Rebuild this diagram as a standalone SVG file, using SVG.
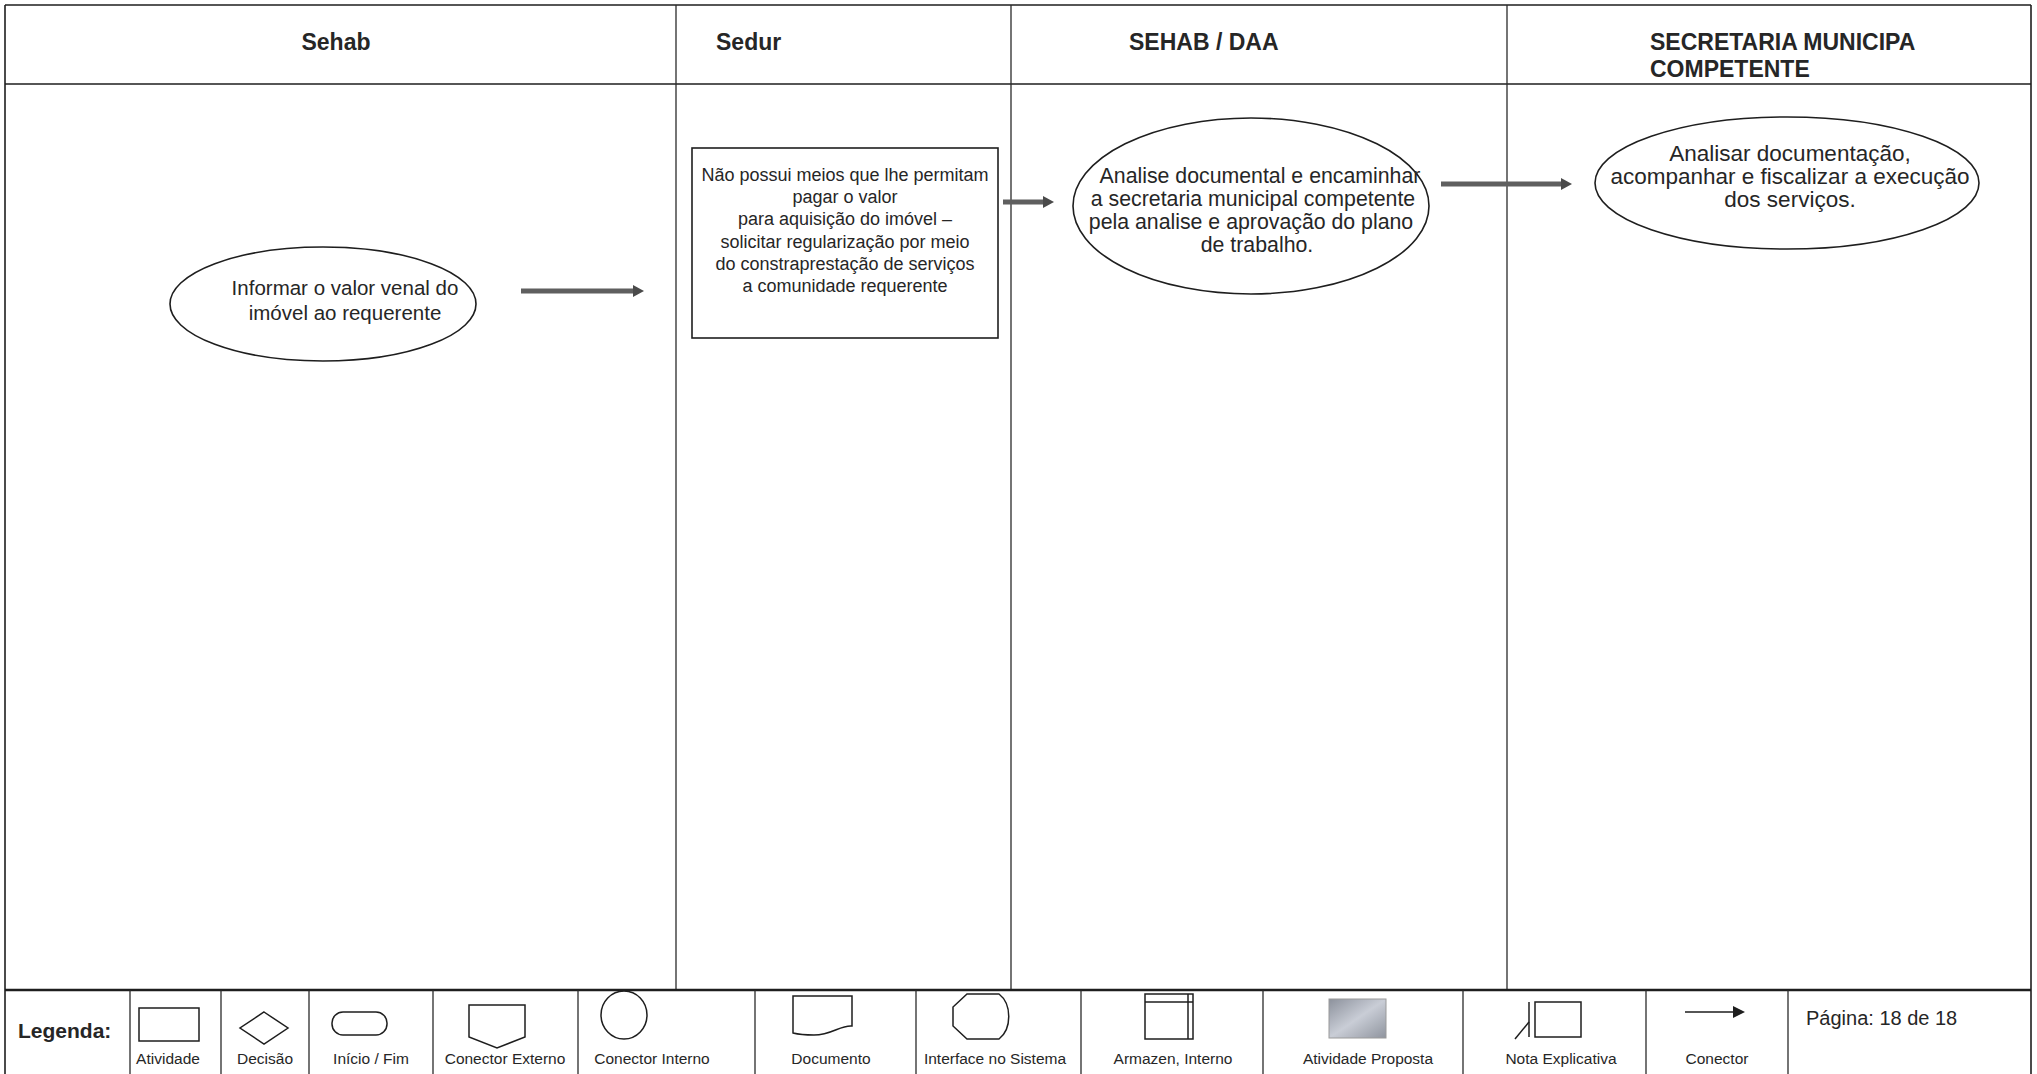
<svg xmlns="http://www.w3.org/2000/svg" width="2037" height="1074" viewBox="0 0 2037 1074">
<defs>
<style>
.frame{fill:none;stroke:#1e1e1e;stroke-width:1.6}
.div{fill:none;stroke:#2a2a2a;stroke-width:1.3}
.shape{fill:#fff;stroke:#1e1e1e;stroke-width:1.6}
.lg{fill:none;stroke:#1e1e1e;stroke-width:1.5}
.hd{font-family:"Liberation Sans",Arial,sans-serif;font-weight:bold;font-size:23px;fill:#262626}
.tx{font-family:"Liberation Sans",Arial,sans-serif;fill:#262626;text-anchor:middle}
.lbl{font-family:"Liberation Sans",Arial,sans-serif;font-size:15.5px;fill:#262626;text-anchor:middle}
.conn{stroke:#5f5f5f;stroke-width:5;fill:none;marker-end:url(#ah)}
</style>
<marker id="ah" markerUnits="userSpaceOnUse" markerWidth="12" markerHeight="14" refX="1" refY="7" orient="auto">
<path d="M0,1 L11,7 L0,13 Z" fill="#4a4a4a"/>
</marker>
<linearGradient id="gp" x1="0" y1="0" x2="1" y2="1">
<stop offset="0" stop-color="#8c919c"/>
<stop offset="0.5" stop-color="#c9cdd6"/>
<stop offset="1" stop-color="#8f949e"/>
</linearGradient>
</defs>
<rect width="2037" height="1074" fill="#fff"/>

<g id="frame">
<line class="frame" x1="5" y1="5" x2="2031" y2="5"/>
<line class="frame" x1="5" y1="5" x2="5" y2="1074"/>
<line class="frame" x1="2031" y1="5" x2="2031" y2="1074"/>
<line class="frame" x1="5" y1="84" x2="2031" y2="84"/>
<line class="div" x1="676" y1="5" x2="676" y2="990"/>
<line class="div" x1="1011" y1="5" x2="1011" y2="990"/>
<line class="div" x1="1507" y1="5" x2="1507" y2="990"/>
<line x1="5" y1="990" x2="2031" y2="990" stroke="#1e1e1e" stroke-width="2.6"/>
</g>

<g id="headers">
<text class="hd" x="336" y="50" text-anchor="middle">Sehab</text>
<text class="hd" x="716" y="50">Sedur</text>
<text class="hd" x="1129" y="50">SEHAB / DAA</text>
<text class="hd" x="1650" y="50">SECRETARIA MUNICIPA</text>
<text class="hd" x="1650" y="77">COMPETENTE</text>
</g>

<g id="node-informar">
<ellipse class="shape" cx="323" cy="304" rx="153" ry="57"/>
<text class="tx" font-size="20.5" x="345" y="295">Informar o valor venal do</text>
<text class="tx" font-size="20.5" x="345" y="320">imóvel ao requerente</text>
</g>

<g id="node-nao-possui">
<rect class="shape" x="692" y="148" width="306" height="190"/>
<text class="tx" font-size="18"><tspan x="845" y="181">Não possui meios que lhe permitam</tspan><tspan x="845" y="203">pagar o valor</tspan><tspan x="845" y="225">para aquisição do imóvel –</tspan><tspan x="845" y="248">solicitar regularização por meio</tspan><tspan x="845" y="270">do constraprestação de serviços</tspan><tspan x="845" y="292">a comunidade requerente</tspan></text>
</g>

<g id="node-analise">
<ellipse class="shape" cx="1251" cy="206" rx="178" ry="88"/>
<text class="tx" font-size="21.3"><tspan x="1260" y="183">Analise documental e encaminhar</tspan><tspan x="1253" y="206">a secretaria municipal competente</tspan><tspan x="1251" y="229">pela analise e aprovação do plano</tspan><tspan x="1257" y="252">de trabalho.</tspan></text>
</g>

<g id="node-analisar">
<ellipse class="shape" cx="1787" cy="183" rx="192" ry="66"/>
<text class="tx" font-size="22.5"><tspan x="1790" y="161">Analisar documentação,</tspan><tspan x="1790" y="184">acompanhar e fiscalizar a execução</tspan><tspan x="1790" y="207">dos serviços.</tspan></text>
</g>

<g id="connectors">
<line class="conn" x1="521" y1="291" x2="634" y2="291"/>
<line class="conn" x1="1003" y1="202" x2="1044" y2="202"/>
<line class="conn" x1="1441" y1="184" x2="1562" y2="184"/>
</g>

<g id="legend">
<line class="div" x1="130" y1="990" x2="130" y2="1074"/>
<line class="div" x1="221" y1="990" x2="221" y2="1074"/>
<line class="div" x1="309" y1="990" x2="309" y2="1074"/>
<line class="div" x1="433" y1="990" x2="433" y2="1074"/>
<line class="div" x1="578" y1="990" x2="578" y2="1074"/>
<line class="div" x1="755" y1="990" x2="755" y2="1074"/>
<line class="div" x1="916" y1="990" x2="916" y2="1074"/>
<line class="div" x1="1081" y1="990" x2="1081" y2="1074"/>
<line class="div" x1="1263" y1="990" x2="1263" y2="1074"/>
<line class="div" x1="1463" y1="990" x2="1463" y2="1074"/>
<line class="div" x1="1646" y1="990" x2="1646" y2="1074"/>
<line class="div" x1="1788" y1="990" x2="1788" y2="1074"/>

<text class="hd" x="18" y="1038" style="font-size:21px">Legenda:</text>

<rect class="lg" x="139" y="1008" width="60" height="33"/>
<text class="lbl" x="168" y="1064">Atividade</text>

<path class="lg" d="M264,1012 L288,1028 L264,1044 L240,1028 Z"/>
<text class="lbl" x="265" y="1064">Decisão</text>

<rect class="lg" x="332" y="1012" width="55" height="23" rx="11" ry="11"/>
<text class="lbl" x="371" y="1064">Início / Fim</text>

<path class="lg" d="M469,1005 H525 V1037 L497,1048 L469,1037 Z"/>
<text class="lbl" x="505" y="1064">Conector Externo</text>

<ellipse class="lg" cx="624" cy="1015" rx="23" ry="24"/>
<text class="lbl" x="652" y="1064">Conector Interno</text>

<path class="lg" d="M793,996 H852 V1026 C840,1025 832,1035 814,1035 C804,1035 797,1034 793,1033 Z"/>
<text class="lbl" x="831" y="1064">Documento</text>

<path class="lg" d="M967,994 H999 C1012,1004 1012,1029 999,1039 H967 L953,1026 V1007 Z"/>
<text class="lbl" x="995" y="1064">Interface no Sistema</text>

<rect class="lg" x="1145" y="994" width="48" height="45"/>
<line class="lg" x1="1145" y1="1002" x2="1193" y2="1002"/>
<line class="lg" x1="1188" y1="994" x2="1188" y2="1039"/>
<text class="lbl" x="1173" y="1064">Armazen, Interno</text>

<rect x="1329" y="999" width="57" height="39" fill="url(#gp)" stroke="#9a9a9a" stroke-width="1"/>
<text class="lbl" x="1368" y="1064">Atividade Proposta</text>

<rect class="lg" x="1535" y="1002" width="46" height="35"/>
<line class="lg" x1="1529" y1="1002" x2="1529" y2="1037"/>
<line class="lg" x1="1515" y1="1039" x2="1529" y2="1022"/>
<text class="lbl" x="1561" y="1064">Nota Explicativa</text>

<line x1="1685" y1="1012" x2="1734" y2="1012" stroke="#1e1e1e" stroke-width="1.6"/>
<path d="M1733,1006 L1745,1012 L1733,1018 Z" fill="#1e1e1e"/>
<text class="lbl" x="1717" y="1064">Conector</text>

<text font-family="'Liberation Sans',Arial,sans-serif" font-size="20" fill="#262626" x="1806" y="1025">Página: 18 de 18</text>
</g>
</svg>
